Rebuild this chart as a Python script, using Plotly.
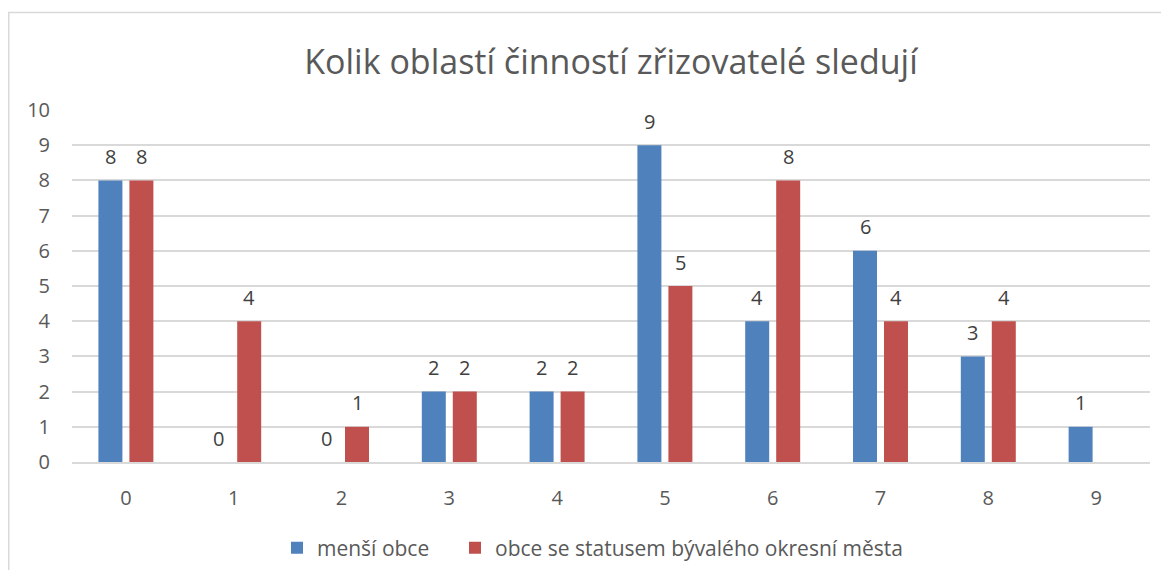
import plotly.graph_objects as go

categories = ["0", "1", "2", "3", "4", "5", "6", "7", "8", "9"]
mensi_obce = [8, 0, 0, 2, 2, 9, 4, 6, 3, 1]
okresni_mesta = [8, 4, 1, 2, 2, 5, 8, 4, 4, None]
y_ticks = list(range(0, 11))

FONT = "Open Sans"
LABEL_SIZE = 20

fig = go.Figure()
fig.add_trace(go.Bar(
    x=categories, y=mensi_obce, name="menší obce",
    marker=dict(color="#4F81BD", line=dict(width=0)), legend="legend",
))
fig.add_trace(go.Bar(
    x=categories, y=okresni_mesta, name="obce se statusem bývalého okresní města",
    marker=dict(color="#C0504D", line=dict(width=0)), legend="legend2",
))

# data labels above each bar (offset to the bar's slot within the group)
for series, shift in ((mensi_obce, -15.5), (okresni_mesta, 15.5)):
    for cat, v in zip(categories, series):
        if v is None:
            continue
        fig.add_annotation(x=cat, y=v, xref="x", yref="y", text=str(v), showarrow=False,
                           xshift=shift, yshift=24, yanchor="middle", xanchor="center",
                           font=dict(family=FONT, size=LABEL_SIZE, color="#404040"))

W, H = 1153, 562
legend_common = dict(orientation="h", xref="container", yref="container", xanchor="left",
                     y=(H - 540) / H, yanchor="middle",
                     font=dict(family=FONT, size=21, color="#595959"), bgcolor="rgba(0,0,0,0)")
fig.update_layout(
    width=W, height=H,
    margin=dict(l=64, r=11, t=102, b=108),
    paper_bgcolor="white", plot_bgcolor="white",
    barmode="group", bargap=0.425, bargroupgap=0.226,
    title=dict(text="Kolik oblastí činností zřizovatelé sledují", xref="paper", x=0.5, xanchor="center",
               y=1 - 54 / H, yanchor="middle",
               font=dict(family=FONT, size=34, color="#595959")),
    font=dict(family=FONT, color="#595959"),
    xaxis=dict(type="category", showgrid=False, showline=True, linecolor="#D9D9D9", linewidth=1.5,
               ticks="outside", ticklen=17, tickcolor="rgba(0,0,0,0)", automargin=False,
               tickfont=dict(family=FONT, size=LABEL_SIZE, color="#595959")),
    yaxis=dict(range=[0, 10], tickvals=y_ticks, showgrid=True, gridcolor="#D9D9D9", gridwidth=1.5,
               zeroline=False, ticks="outside", ticklen=17, tickcolor="rgba(0,0,0,0)", automargin=False,
               tickfont=dict(family=FONT, size=LABEL_SIZE, color="#595959")),
    legend=dict(x=(277 - 8) / W, **legend_common),
    legend2=dict(x=(455 - 8) / W, **legend_common),
    showlegend=True,
)
fig.add_shape(type="rect", xref="paper", yref="paper",
              x0=(0.75 - 64) / 1078, x1=(1200 - 64) / 1078,
              y0=(454 - 620) / 352, y1=(454 - 4.5) / 352,
              line=dict(color="#D9D9D9", width=1.5), fillcolor="rgba(0,0,0,0)", layer="below")

fig.write_html("out.html")
